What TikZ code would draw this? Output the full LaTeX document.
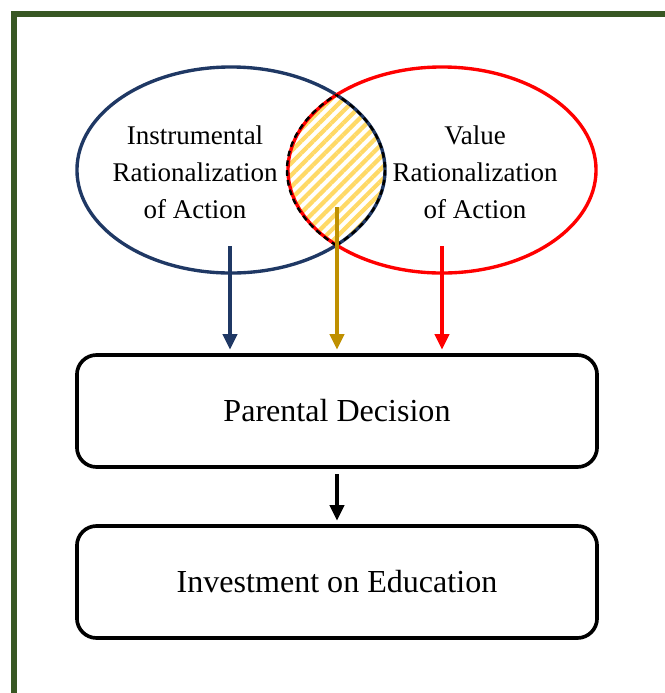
\documentclass[tikz,border=0pt]{standalone}
\usepackage{fontspec}
\setmainfont{Liberation Serif}
\usetikzlibrary{arrows.meta}
\usetikzlibrary{shapes}
\usetikzlibrary{patterns.meta}
\definecolor{NavyLine}{RGB}{31,56,100}
\definecolor{GoldLine}{RGB}{191,144,0}
\definecolor{HatchYellow}{RGB}{255,217,102}
\definecolor{FrameGreen}{RGB}{56,87,35}
\newcommand{\RatioFont}{\fontsize{19.2}{26.3}\selectfont}
\newcommand{\BoxFont}{\fontsize{22.8}{27}\selectfont}
\tikzstyle{RatioNode}=[ellipse, line width=2.4pt, minimum width=7.7cm, minimum height=5.15cm, inner sep=0pt]
\tikzstyle{RatioText}=[align=center, font=\RatioFont, inner sep=0pt]
\tikzstyle{DecisionBox}=[rectangle, draw=black, line width=2.6pt, rounded corners=14pt, minimum width=13cm, minimum height=2.8cm, font=\BoxFont]
\tikzstyle{NavyEdge}=[-{Triangle[length=11pt,width=10pt]}, line width=2.5pt, NavyLine, shorten >=2.5pt]
\tikzstyle{GoldEdge}=[NavyEdge, GoldLine]
\tikzstyle{RedEdge}=[NavyEdge, red]
\tikzstyle{BlackEdge}=[NavyEdge, black, shorten <=4pt]
\tikzstyle{LensDash}=[black, line width=1.7pt, dash pattern=on 4pt off 3pt]

\begin{document}
\begin{tikzpicture}[x=0.025cm, y=-0.025cm]
\useasboundingbox (0,0) rectangle (665,693);
\clip (0,0) rectangle (665,693);
\draw[FrameGreen, line width=4.3pt] (700,14) -- (14,14) -- (14,720);

% hatched overlap
\begin{scope}
\clip (231,170) ellipse [x radius=154, y radius=103];
\fill[pattern={Lines[angle=45, distance=6pt, line width=3pt]}, pattern color=HatchYellow] (442,170) ellipse [x radius=155, y radius=103];
\end{scope}

\node[RatioNode, draw=NavyLine](IRA) at (231,170) {};
\node[RatioNode, draw=red](VRA) at (442,170) {};
\node[RatioText](IRAText) at (195,172) {Instrumental\\Rationalization\\of Action};
\node[RatioText](VRAText) at (475,172) {Value\\Rationalization\\of Action};

% dashed border of the overlap
\begin{scope}
\clip (231,170) ellipse [x radius=154, y radius=103];
\draw[LensDash] (442,170) ellipse [x radius=155, y radius=103];
\end{scope}
\begin{scope}
\clip (442,170) ellipse [x radius=155, y radius=103];
\draw[LensDash] (231,170) ellipse [x radius=154, y radius=103];
\end{scope}

\node[DecisionBox](PD) at (337,411) {Parental Decision};
\node[DecisionBox](IE) at (337,582) {Investment on Education};

\coordinate (IRAStart) at (230,246);
\coordinate (LensStart) at (337,207);
\coordinate (VRAStart) at (442,246);

\draw[NavyEdge](IRAStart) -- (IRAStart |- PD.north);
\draw[GoldEdge](LensStart) -- (LensStart |- PD.north);
\draw[RedEdge](VRAStart) -- (VRAStart |- PD.north);
\draw[BlackEdge](PD) -- (IE);

\end{tikzpicture}
\end{document}
